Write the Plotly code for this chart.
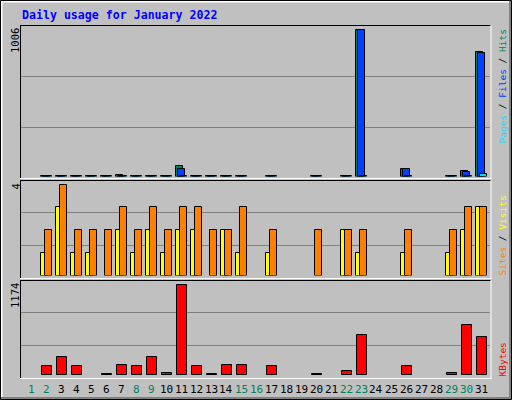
import datetime
import plotly.graph_objects as go

# ---------------- data ----------------
days = list(range(1, 32))
hits = [None, 4, 5, 4, 4, 3, 12, 4, 5, 4, 75, 4, 3, 4, 4, None, 4, None, None, 3,
        None, 4, 1006, None, None, 50, None, None, 4, 36, 850]
files = [None, 2, 3, 2, 2, 2, 6, 2, 3, 2, 54, 2, 2, 2, 2, None, 2, None, None, 2,
         None, 2, 1000, None, None, 48, None, None, 2, 34, 843]
pages = [None, 1, 2, 1, 1, 1, 2, 1, 2, 1, 3, 1, 1, 1, 1, None, 1, None, None, 1,
         None, 1, 3, None, None, 2, None, None, 1, 3, 17]
visits = [None, 1, 3, 1, 1, None, 2, 1, 2, 1, 2, 2, None, 2, 1, None, 1, None, None, None,
          None, 2, 1, None, None, 1, None, None, 1, 2, 3]
sites = [None, 2, 4, 2, 2, 2, 3, 2, 3, 2, 3, 3, 2, 2, 3, None, 2, None, None, 2,
         None, 2, 2, None, None, 2, None, None, 2, 3, 3]
kbytes = [None, 116, 232, 116, None, 8, 129, 116, 232, 30, 1174, 116, 8, 129, 129, None, 120, None, None, 8,
          None, 52, 516, None, None, 120, None, None, 26, 645, 494]
title_text = "Daily usage for January 2022"
year, month = 2022, 1

# ---------------- style ----------------
C_HIT, C_FILE, C_PAGE = "#00805c", "#0040ff", "#00e0ff"
C_VISIT, C_SITE, C_KB = "#ffff00", "#ff8000", "#ff0000"
BG = "#c0c0c0"
GRID = "#808080"
MONO = "DejaVu Sans Mono"
W, H = 512, 400
PXPU = 15.0          # pixels per day
C0 = 16.3            # pixel of day 0 center

def px(x):
    return x / W

def py(y):
    return 1 - y / H

def unit(p):
    return p / PXPU

# x axis range from pixel frame
FX0, FX1 = 20, 491
xr = [(FX0 - C0) / PXPU, (FX1 - C0) / PXPU]

# panels: frame top, baseline, pixel of max value, frame bottom
panels = [
    dict(top=25, base=176.5, maxpx=29.5, bottom=178.5),
    dict(top=180, base=275.5, maxpx=184.8, bottom=278.5),
    dict(top=280, base=375.0, maxpx=284.8, bottom=378.5),
]
maxv = [max(v for v in hits if v), max(max(v for v in visits if v), max(v for v in sites if v)),
        max(v for v in kbytes if v)]

fig = go.Figure()

def add_bar(vals, color, yaxis, off_px, w_px):
    fig.add_trace(go.Bar(
        x=days, y=vals, yaxis=yaxis, xaxis="x",
        offset=unit(off_px), width=unit(w_px),
        marker=dict(color=color, line=dict(color="black", width=1)),
        hoverinfo="skip", showlegend=False,
    ))

add_bar(hits, C_HIT, "y", -5.8, 7)
add_bar(files, C_FILE, "y", -3.8, 7)
add_bar(pages, C_PAGE, "y", -1.8, 7)
add_bar(visits, C_VISIT, "y2", -5.8, 7)
add_bar(sites, C_SITE, "y2", -1.8, 7)
add_bar(kbytes, C_KB, "y3", -4.8, 10)

layout_axes = {}
for i, p in enumerate(panels):
    name = "yaxis" if i == 0 else "yaxis%d" % (i + 1)
    rng_top = maxv[i] * (p["base"] - p["top"]) / (p["base"] - p["maxpx"])
    layout_axes[name] = dict(domain=[py(p["base"]), py(p["top"])], range=[0, rng_top],
                             visible=False, fixedrange=True, anchor="x")

shapes = []

def line(x0, y0, x1, y1, color, w=1, layer="above"):
    shapes.append(dict(type="line", xref="paper", yref="paper",
                       x0=px(x0), y0=py(y0), x1=px(x1), y1=py(y1),
                       line=dict(color=color, width=w), layer=layer))

# grid lines at thirds of each panel
for p in panels:
    hgt = p["bottom"] - p["top"]
    for k in (1, 2):
        yy = int(p["top"] + hgt * k / 3) + 0.5
        line(FX0 + 1, yy, FX1 - 1, yy, GRID, 1, "below")

# panel frames
for p in panels:
    line(FX0, p["top"] + 0.5, FX1, p["top"] + 0.5, "black")
    line(FX0 + 0.5, p["top"], FX0 + 0.5, p["bottom"], "black")
    line(FX0, p["bottom"], FX1 + 0.5, p["bottom"], "white")
    line(FX1, p["top"], FX1, p["bottom"] + 0.5, "white")

# outer frame
line(1, 1.5, W - 2, 1.5, "white", 2)
line(1.5, 1, 1.5, H - 2, "white", 2)
line(1, H - 2, W - 1, H - 2, "#808080", 2)
line(W - 2, 1, W - 2, H - 1, "#808080", 2)
shapes.append(dict(type="rect", xref="paper", yref="paper",
                   x0=px(0.5), y0=py(0.5), x1=px(W - 0.5), y1=py(H - 0.5),
                   line=dict(color="black", width=1), layer="above"))

ann = []
# title
ann.append(dict(text="<b>%s</b>" % title_text, x=px(20), y=py(15.5), xref="paper", yref="paper",
                xanchor="left", yanchor="middle", showarrow=False,
                font=dict(family=MONO, size=11.6, color="#0000ff")))

# left max labels
for i, p in enumerate(panels):
    ann.append(dict(text=str(maxv[i]), x=px(15), y=py(p["top"] + 1.5), xref="paper", yref="paper",
                    xanchor="center", yanchor="top", textangle=-90, showarrow=False,
                    font=dict(family=MONO, size=10.5, color="black")))

# right labels
def sp(t, c):
    return "<span style='color:%s'>%s</span>" % (c, t)

right = [
    (sp("Pages", C_PAGE) + " / " + sp("Files", C_FILE) + " / " + sp("Hits", C_HIT), 27.5, "top"),
    (sp("Sites", C_SITE) + " / " + sp("Visits", C_VISIT), 277.5, "bottom"),
    (sp("KBytes", C_KB), 378.5, "bottom"),
]
for txt, yy, anc in right:
    ann.append(dict(text=txt, x=px(502), y=py(yy), xref="paper", yref="paper",
                    xanchor="center", yanchor=anc, textangle=-90, showarrow=False,
                    font=dict(family=MONO, size=9.5, color="black")))

# day labels
for d in days:
    wk = datetime.date(year, month, d).weekday() >= 5
    ann.append(dict(text=str(d), x=d, y=py(389.5), xref="x", yref="paper",
                    xanchor="center", yanchor="middle", showarrow=False,
                    font=dict(family=MONO, size=11, color=C_HIT if wk else "black")))

fig.update_layout(
    width=W, height=H, margin=dict(l=0, r=0, t=0, b=0),
    paper_bgcolor=BG, plot_bgcolor="rgba(0,0,0,0)",
    barmode="overlay", bargap=0,
    xaxis=dict(domain=[px(FX0), px(FX1)], range=xr, visible=False, fixedrange=True, anchor="y3"),
    shapes=shapes, annotations=ann, showlegend=False,
    **layout_axes,
)
fig.write_html("out.html", config={"displayModeBar": False},
               post_script="document.body.style.margin='0';document.body.style.padding='0';"
                           "document.body.style.overflow='hidden';")
